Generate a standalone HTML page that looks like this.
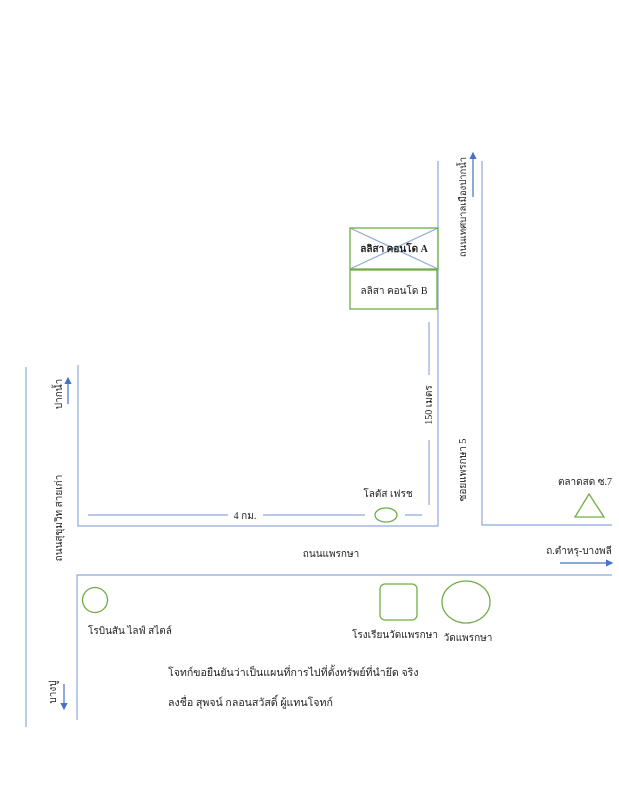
<!DOCTYPE html>
<html><head><meta charset="utf-8"><style>html,body{margin:0;padding:0;background:#fff}svg{display:block}</style></head><body>
<svg width="619" height="800" viewBox="0 0 619 800" xmlns="http://www.w3.org/2000/svg" font-family="'Liberation Serif','Noto Serif CJK SC','Noto Sans CJK SC',serif" font-size="10" fill="#222">
<defs><marker id="ar" markerWidth="6" markerHeight="6" refX="5" refY="3" orient="auto"><path d="M0,0 L6,3 L0,6 z" fill="#4472c4"/></marker></defs>
<g stroke="#8eaadb" stroke-width="1.2" fill="none">
<line x1="26" y1="367" x2="26" y2="727"/>
<polyline points="78,365 78,526 438,526 438,161"/>
<polyline points="482,161 482,525 612,525"/>
<polyline points="612,575 77,575 77,720"/>
<line x1="429" y1="322" x2="429" y2="375"/>
<line x1="429" y1="440" x2="429" y2="505"/>
<line x1="88" y1="515" x2="228" y2="515"/>
<line x1="263" y1="515" x2="365" y2="515"/>
<line x1="405" y1="515" x2="422" y2="515"/>
<line x1="350" y1="228" x2="438" y2="269"/>
<line x1="438" y1="228" x2="350" y2="269"/>
</g>
<g stroke="#4472c4" stroke-width="1.2" fill="none">
<line x1="473" y1="197" x2="473" y2="153" marker-end="url(#ar)"/>
<line x1="68" y1="404" x2="68" y2="378" marker-end="url(#ar)"/>
<line x1="64" y1="684" x2="64" y2="709" marker-end="url(#ar)"/>
<line x1="560" y1="563" x2="612" y2="563" marker-end="url(#ar)"/>
</g>
<g stroke="#70ad47" stroke-width="1.3" fill="none">
<rect x="350" y="228" width="88" height="41"/>
<rect x="350" y="270" width="87" height="39"/>
<ellipse cx="386" cy="515" rx="11" ry="7"/>
<polygon points="589,494 575,517 604,517"/>
<circle cx="95" cy="600" r="12.5"/>
<rect x="380" y="584" width="37" height="36" rx="5"/>
<ellipse cx="466" cy="602" rx="24" ry="21"/>
</g>
<text x="394" y="252" text-anchor="middle" font-weight="bold">ลลิสา คอนโด A</text>
<text x="394" y="294" text-anchor="middle">ลลิสา คอนโด B</text>
<text transform="translate(466,207) rotate(-90)" text-anchor="middle" font-size="9.5">ถนนเทศบาลเมืองปากน้ำ</text>
<text transform="translate(432,405) rotate(-90)" text-anchor="middle">150 เมตร</text>
<text transform="translate(466,470) rotate(-90)" text-anchor="middle">ซอยแพรกษา 5</text>
<text transform="translate(62,394) rotate(-90)" text-anchor="middle">ปากน้ำ</text>
<text transform="translate(62,518) rotate(-90)" text-anchor="middle">ถนนสุขุมวิท สายเก่า</text>
<text transform="translate(56,692) rotate(-90)" text-anchor="middle">บางปู</text>
<text x="245" y="519" text-anchor="middle">4 กม.</text>
<text x="388" y="497" text-anchor="middle">โลตัส เฟรช</text>
<text x="585" y="485" text-anchor="middle">ตลาดสด ซ.7</text>
<text x="331" y="557" text-anchor="middle">ถนนแพรกษา</text>
<text x="579" y="554" text-anchor="middle">ถ.ตำหรุ-บางพลี</text>
<text x="88" y="634">โรบินสัน ไลฟ์ สไตล์</text>
<text x="395" y="638" text-anchor="middle">โรงเรียนวัดแพรกษา</text>
<text x="468" y="641" text-anchor="middle">วัดแพรกษา</text>
<text x="168" y="676" font-size="10.6">โจทก์ขอยืนยันว่าเป็นแผนที่การไปที่ตั้งทรัพย์ที่นำยึด จริง</text>
<text x="168" y="706" font-size="10.6">ลงชื่อ  สุพจน์ กลอนสวัสดิ์ ผู้แทนโจทก์</text>
</svg>
</body></html>
